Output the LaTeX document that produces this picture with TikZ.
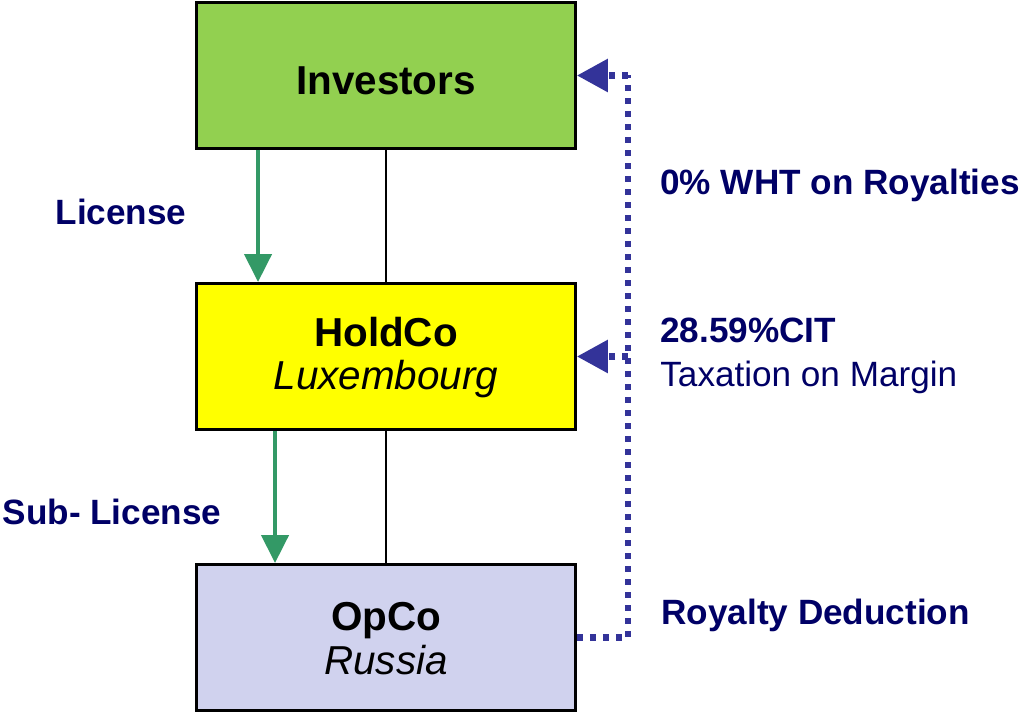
\documentclass[tikz,border=0pt]{standalone}
\usepackage{fontspec}
\setmainfont{Liberation Sans}
\usetikzlibrary{arrows.meta,positioning,calc}
\definecolor{invgreen}{RGB}{146,208,80}
\definecolor{opblue}{RGB}{208,210,238}
\definecolor{licgreen}{RGB}{51,153,102}
\definecolor{royal}{RGB}{51,51,153}
\definecolor{navy}{RGB}{0,0,102}
\definecolor{holdyellow}{RGB}{255,255,0}

\begin{document}
\begin{tikzpicture}[x=0.02cm,y=-0.02cm,
entity/.style={draw,line width=1.7pt,minimum width=7.58cm,minimum height=2.92cm,align=center,
  font=\fontsize{23}{25.8}\selectfont,inner sep=0pt},
lic/.style={draw=licgreen,line width=2.5pt,-{Triangle[length=0.56cm,width=0.54cm]}},
roy/.style={draw=royal,line width=3.5pt,dash pattern=on 0.12cm off 0.14cm},
royarr/.style={roy,-{Triangle[length=0.62cm,width=0.64cm]}},
note/.style={text=navy,font=\fontsize{20}{24}\selectfont\bfseries,inner sep=0pt}]
 \useasboundingbox (0,0) rectangle (1021,715);
 % entities
 \node[entity,fill=invgreen] (inv) at (386,75.5) {\raisebox{-0.1cm}[\height][\depth]{\bfseries Investors}};
 \node[entity,fill=holdyellow] (hold) at (386,356.5) {\raisebox{-0.04cm}[\height][\depth]{\textbf{HoldCo}}\\\textit{Luxembourg}};
 \node[entity,fill=opblue] (op) at (386,637.5) {\raisebox{-0.04cm}[\height][\depth]{\textbf{OpCo}}\\\textit{Russia}};
 % ownership
 \draw[line width=0.8pt] (inv) -- (hold);
 \draw[line width=0.8pt] (hold) -- (op);
 % licences
 \draw[lic] ([xshift=1.26cm]inv.south west) -- ([xshift=1.26cm]hold.north west);
 \draw[lic] ([xshift=1.6cm]hold.south west) -- ([xshift=1.6cm]op.north west);
 \node[note,anchor=base] (licl) at (121,225) {License};
 \node[note,anchor=base] (subl) at (112,525) {Sub- License};
 % royalty flow
 \coordinate (rb) at (628,637.5);
 \coordinate (rt) at (628,75.5);
 \coordinate (rm) at (628,356.5);
 \draw[roy] (op.east) -- (rb) -- (rt);
 \foreach \X/\Y in {rt/inv,rm/hold}
  \draw[royarr] (\X) -- (\Y.east);
 \node[note,anchor=base west] (wht) at (660,195) {0\% WHT on Royalties};
 \node[note,anchor=base west] (cit) at (660,343) {28.59\%CIT};
 \node[note,anchor=base west,font=\fontsize{20}{24}\selectfont\mdseries] (marg) at (660,387) {Taxation on Margin};
 \node[note,anchor=base west] (ded) at (661,625) {Royalty Deduction};
\end{tikzpicture}
\end{document}
